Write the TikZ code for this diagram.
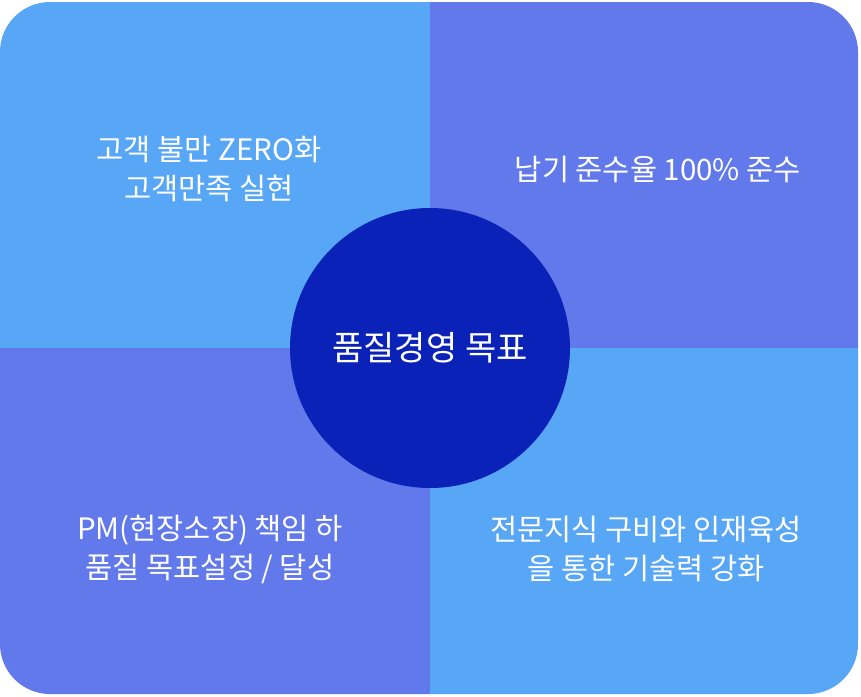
\documentclass[tikz,border=0pt]{standalone}
\usepackage{fontspec}
\setmainfont{Noto Sans CJK KR}
\definecolor{skyblue}{HTML}{58A6F6}
\definecolor{periwinkle}{HTML}{6179EA}
\definecolor{deepblue}{HTML}{0A22B8}
\tikzset{
  goal/.style={text=white, align=center, font=\fontsize{29.5}{39}\selectfont},
  core/.style={circle, fill=deepblue, minimum size=280pt, inner sep=0pt,
    text=white, font=\fontsize{34}{40}\selectfont}
}
\begin{document}
\begin{tikzpicture}[x=1pt,y=-1pt]
\useasboundingbox (0,0) rectangle (861,696);
\coordinate (C) at (430,348);

% The four quadrants
\begin{scope}
\clip[rounded corners=50pt] (0,2) rectangle (858,694);
\fill[skyblue]    (0,0)     rectangle (C);
\fill[periwinkle] (430,0)   rectangle (861,348);
\fill[periwinkle] (0,348)   rectangle (430,696);
\fill[skyblue]    (C)       rectangle (861,696);
\end{scope}

% The goals
\node[goal] (custom)  at (209,169) {고객 불만 ZERO화\\고객만족 실현};
\node[goal] (deliver) at (658,169) {납기 준수율 100\% 준수};
\node[goal] (leader)  at (210,549) {PM(현장소장) 책임 하\\품질 목표설정 / 달성};
\node[goal] (skill)   at (646,549) {전문지식 구비와 인재육성\\을 통한 기술력 강화};

% The centre
\node[core] (target) at (C) {품질경영 목표};
\end{tikzpicture}
\end{document}
